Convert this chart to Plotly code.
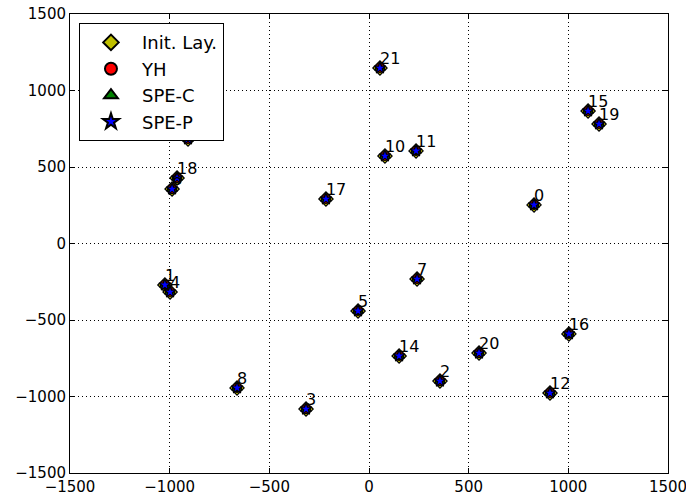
import plotly.graph_objects as go

# node ids and positions (the methods nearly coincide)
node_ids = ["0", "1", "2", "3", "4", "5", "6", "7", "8", "9", "10",
            "11", "12", "14", "15", "16", "17", "18", "19", "20", "21"]
x_vals = [828, -1024, 356, -316, -998, -55, -988, 241, -662, -908, 80,
          236, 908, 151, 1099, 1003, -216, -963, 1154, 552, 55]
y_vals = [252, -271, -899, -1082, -317, -441, 356, -232, -944, 683, 572,
          605, -977, -735, 866, -591, 291, 428, 781, -716, 1147]

series_names = ["Init. Lay.", "YH", "SPE-C", "SPE-P"]
series_colors = ["#bfbf00", "#ff0000", "#008000", "#0000ff"]
series_symbols = ["diamond", "circle", "triangle-up", "star"]
series_sizes = [11, 9, 9, 9]

tick_vals = [-1500, -1000, -500, 0, 500, 1000, 1500]

fig = go.Figure()
for name, col, sym, sz in zip(series_names, series_colors, series_symbols, series_sizes):
    fig.add_trace(go.Scatter(
        x=x_vals, y=y_vals, mode="markers", name=name,
        marker=dict(color=col, symbol=sym, size=sz,
                    line=dict(color="black", width=1.2)),
    ))

# node labels as a text trace (drawn beneath the legend, like the reference)
fig.add_trace(go.Scatter(
    x=x_vals, y=y_vals, mode="text", text=node_ids,
    textposition="top right", showlegend=False, hoverinfo="skip",
    textfont=dict(family="DejaVu Sans", size=16, color="black"),
))

axis_common = dict(
    range=[-1500, 1500], tickvals=tick_vals,
    ticktext=[str(v).replace("-", "\u2212") for v in tick_vals],
    showgrid=True, gridcolor="black", griddash="1px,3px", gridwidth=1,
    zeroline=False, showline=True, linecolor="black", linewidth=1,
    mirror="ticks", ticks="inside", ticklen=5, tickcolor="black",
    ticklabeloverflow="allow", automargin=False,
    tickfont=dict(family="DejaVu Sans", size=15, color="black"),
)

fig.update_layout(
    width=686, height=499,
    margin=dict(l=70, r=18, t=14, b=26),
    paper_bgcolor="white", plot_bgcolor="white",
    xaxis=axis_common, yaxis=axis_common,
    showlegend=True,
    legend=dict(x=0.015, y=0.98, xanchor="left", yanchor="top",
                bgcolor="white", bordercolor="black", borderwidth=1,
                font=dict(family="DejaVu Sans", size=18, color="black"),
                itemsizing="constant", itemwidth=52),
)

fig.write_html("out.html")
